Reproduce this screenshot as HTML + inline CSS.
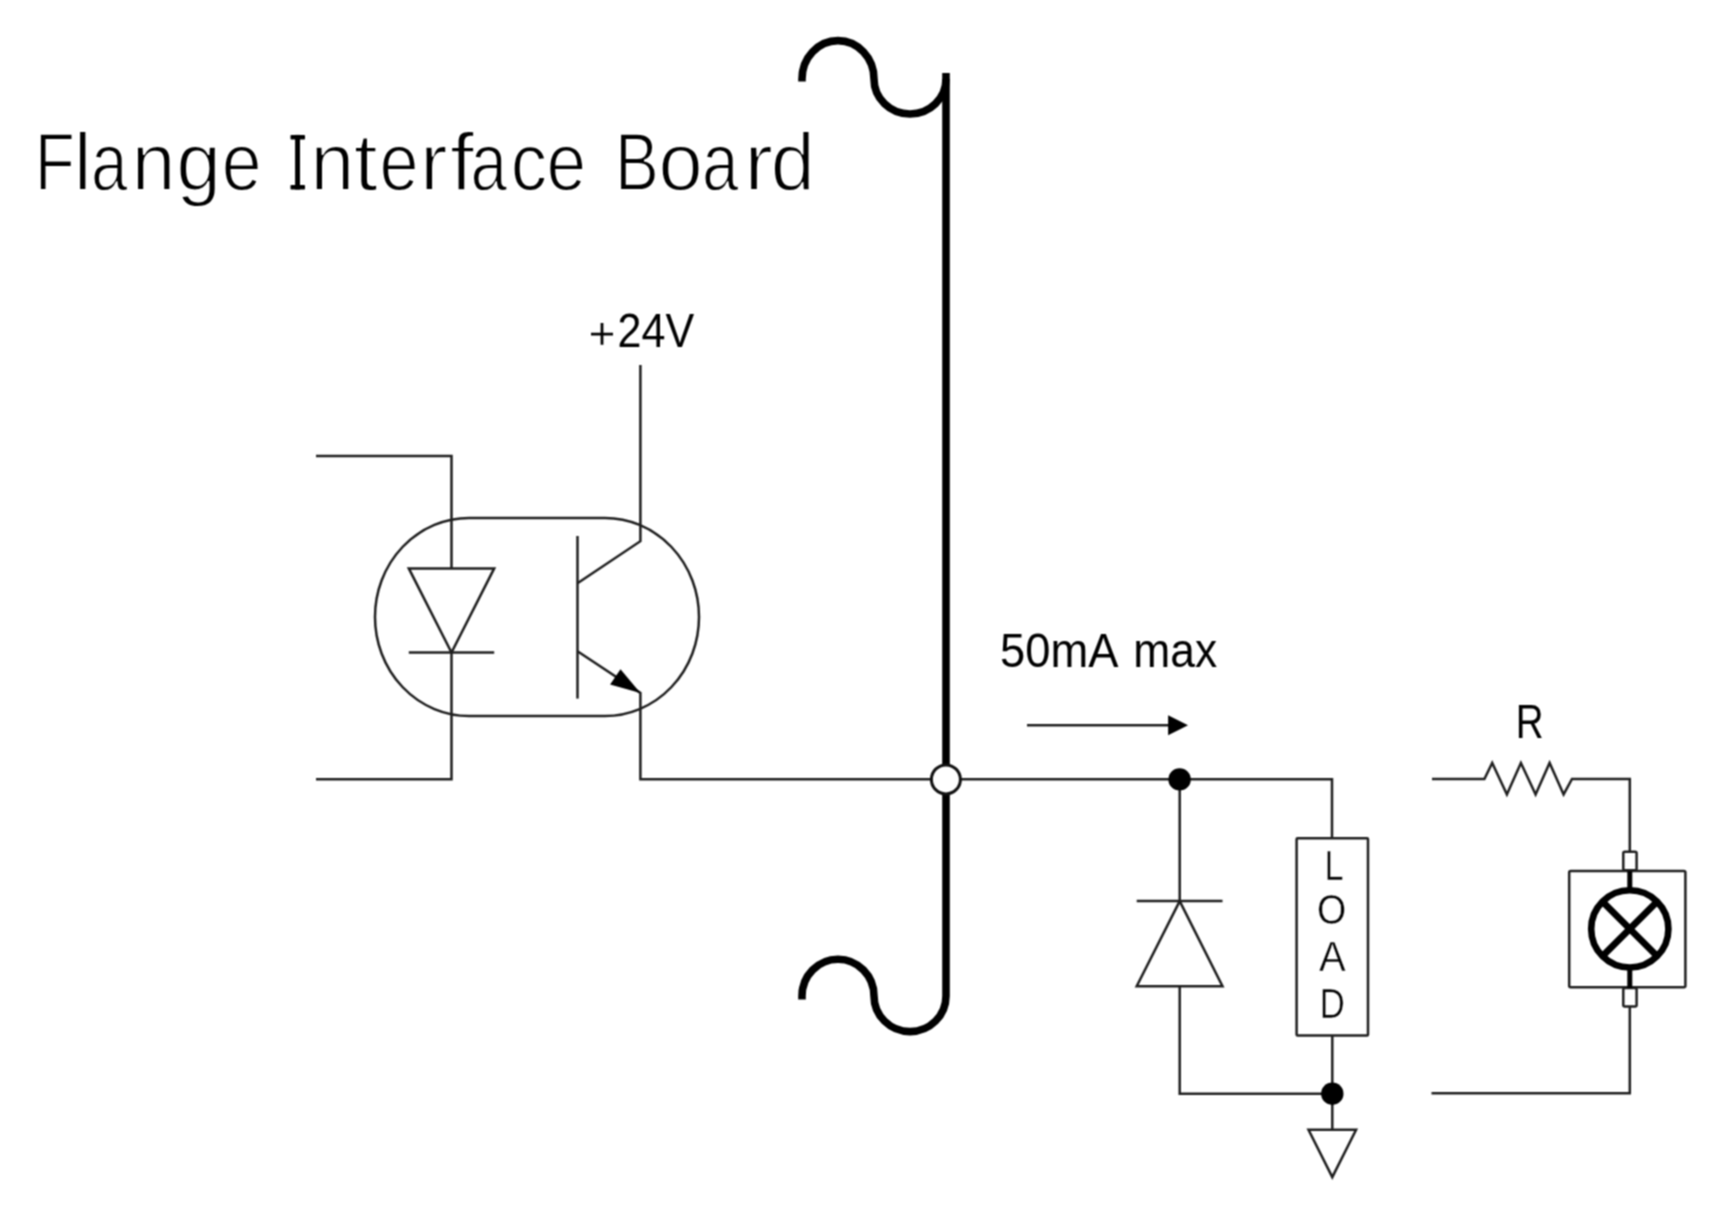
<!DOCTYPE html>
<html>
<head>
<meta charset="utf-8">
<style>
html,body{margin:0;padding:0;background:#fff;}
body{width:1713px;height:1216px;overflow:hidden;}
svg{display:block;}
text{font-family:"Liberation Sans",sans-serif;fill:#000;stroke:#fff;}
</style>
</head>
<body>
<svg width="1713" height="1216" viewBox="0 0 1713 1216">
<defs>
<filter id="bl" color-interpolation-filters="sRGB" x="0" y="0" width="1713" height="1216" filterUnits="userSpaceOnUse"><feConvolveMatrix order="3" kernelMatrix="1 2 1 2 4 2 1 2 1" divisor="16" edgeMode="none"/></filter>
</defs>
<rect x="0" y="0" width="1713" height="1216" fill="#fff"/>
<g filter="url(#bl)">
<g fill="none" stroke="#000" stroke-width="7.6">
  <path d="M802,81.5 L802,79 A36,38.4 0 0 1 874,79 A36,35 0 0 0 946,79"/>
  <path d="M946,73 V996"/>
  <path d="M802,999.5 L802,996 A36,36.8 0 0 1 874,996 A36,35.6 0 0 0 946,996"/>
</g>
<g fill="none" stroke="#1e1e1e" stroke-width="2.5" stroke-linejoin="miter">
  <rect x="375" y="518" width="324" height="198" rx="94" ry="99"/>
  <path d="M316,456 H451.5 V568.4"/>
  <path d="M408.8,568.4 H494.2 L451.5,652.6 Z"/>
  <path d="M408.8,652.6 H494.2"/>
  <path d="M451.5,652.6 V779.3 H316"/>
  <path d="M577.5,536 V698.6"/>
  <path d="M577.5,583.2 L640.4,541.2 V365"/>
  <path d="M577.5,651.3 L640.4,692.9 V779.3 H946"/>
  <path d="M946,779.3 H1332 V838.3"/>
  <path d="M1027,725.2 H1170"/>
  <path d="M1179.7,779.3 V901.1"/>
  <path d="M1136.7,901.1 H1222.5"/>
  <path d="M1179.7,901.1 L1222.5,986.3 H1136.7 Z"/>
  <path d="M1179.7,986.3 V1093.7 H1332.3"/>
  <rect x="1296.6" y="838.3" width="71.4" height="197.3" rx="1"/>
  <path d="M1332.3,1035.6 V1129.8"/>
  <path d="M1308.5,1129.8 H1356.1 L1332.3,1177.1 Z"/>
  <path d="M1432,779 H1484.4 L1492.2,762.9 L1506.9,794.4 L1520.9,762.9 L1535.6,794.4 L1549.6,762.9 L1563.6,794.4 L1572,779 H1629.8 V851.8"/>
  <rect x="1569.2" y="871.1" width="116.2" height="116.2" rx="1.5"/>
  <rect x="1623.3" y="851.8" width="13.3" height="18.5" rx="1.5"/>
  <rect x="1623.3" y="988" width="13.3" height="18.5" rx="1.5"/>
  <path d="M1629.8,1006.5 V1093.2 H1431.5"/>
</g>
<polygon points="640.4,692.9 610.1,684.4 620.5,669.3" fill="#000"/>
<polygon points="1168.1,715.2 1188,725.3 1168.1,735.2" fill="#000"/>
<circle cx="945.9" cy="779.4" r="14.5" fill="#fff" stroke="#111" stroke-width="3"/>
<circle cx="1179.6" cy="779.4" r="11.2" fill="#000"/>
<circle cx="1332.3" cy="1093.7" r="11.2" fill="#000"/>
<g fill="none" stroke="#000">
  <circle cx="1629.8" cy="928.9" r="38.6" stroke-width="6.6"/>
  <path d="M1602.5,901.6 L1657.1,956.2 M1657.1,901.6 L1602.5,956.2" stroke-width="6.8"/>
  <path d="M1629.8,871 V890 M1629.8,967 V988" stroke-width="5"/>
</g>
<g fill="#000">
  <rect x="295.1" y="134.9" width="4.9" height="54.6"/>
  <rect x="290.5" y="134.9" width="14.5" height="4.6" rx="0.8"/>
  <rect x="290.5" y="184.9" width="14.5" height="4.6" rx="0.8"/>
</g>
<path d="M591,334.1 H613 M602,323.1 V344.8" stroke="#000" stroke-width="2.8" fill="none"/>
<text transform="translate(617.56,347.1) scale(0.8784,1)" font-size="49.0" stroke-width="0.0">24V</text>
<text transform="translate(1000.12,666.7) scale(0.9248,1)" font-size="49.0" stroke-width="0.0">50mA</text>
<text transform="translate(1133.32,666.7) scale(0.9049,1)" font-size="49.0" stroke-width="0.0">max</text>
<text transform="translate(1515.86,738.3) scale(0.8041,1)" font-size="48.0" stroke-width="0.0">R</text>
<text transform="translate(1324.43,879.85) scale(0.8132,1)" font-size="42.2" stroke-width="0.5">L</text>
<text transform="translate(1316.94,924.25) scale(0.8907,1)" font-size="42.2" stroke-width="0.5">O</text>
<text transform="translate(1318.97,970.65) scale(0.9496,1)" font-size="42.2" stroke-width="0.5">A</text>
<text transform="translate(1319.74,1017.95) scale(0.8227,1)" font-size="42.2" stroke-width="0.5">D</text>
<text transform="translate(34.82,190.4) scale(0.8,1)" font-size="82.1" stroke-width="1.8">F</text>
<text transform="translate(73.8,190.4) scale(0.9852,1)" font-size="82.1" stroke-width="1.8">l</text>
<text transform="translate(90.93,190.4) scale(0.8,1)" font-size="82.1" stroke-width="1.8">a</text>
<text transform="translate(131.67,190.4) scale(0.9561,1)" font-size="82.1" stroke-width="1.8">n</text>
<text transform="translate(176.36,190.4) scale(0.9811,1)" font-size="82.1" stroke-width="1.8">g</text>
<text transform="translate(221.63,190.4) scale(0.8719,1)" font-size="82.1" stroke-width="1.8">e</text>
<text transform="translate(310.47,190.4) scale(0.9583,1)" font-size="82.1" stroke-width="1.8">n</text>
<text transform="translate(353.67,190.4) scale(1.05,1)" font-size="82.1" stroke-width="1.8">t</text>
<text transform="translate(379.5,190.4) scale(0.8556,1)" font-size="82.1" stroke-width="1.8">e</text>
<text transform="translate(420.1,190.4) scale(1.0064,1)" font-size="82.1" stroke-width="1.8">r</text>
<text transform="translate(449.94,190.4) scale(1.05,1)" font-size="82.1" stroke-width="1.8">f</text>
<text transform="translate(470.48,190.4) scale(0.8,1)" font-size="82.1" stroke-width="1.8">a</text>
<text transform="translate(510.79,190.4) scale(0.8861,1)" font-size="82.1" stroke-width="1.8">c</text>
<text transform="translate(546.44,190.4) scale(0.8675,1)" font-size="82.1" stroke-width="1.8">e</text>
<text transform="translate(615.06,190.4) scale(0.8,1)" font-size="82.1" stroke-width="1.8">B</text>
<text transform="translate(658.41,190.4) scale(0.9669,1)" font-size="82.1" stroke-width="1.8">o</text>
<text transform="translate(701.88,190.4) scale(0.8,1)" font-size="82.1" stroke-width="1.8">a</text>
<text transform="translate(744.27,190.4) scale(1.05,1)" font-size="82.1" stroke-width="1.8">r</text>
<text transform="translate(770.67,190.4) scale(0.9642,1)" font-size="82.1" stroke-width="1.8">d</text>
</g>
</svg>
</body>
</html>
